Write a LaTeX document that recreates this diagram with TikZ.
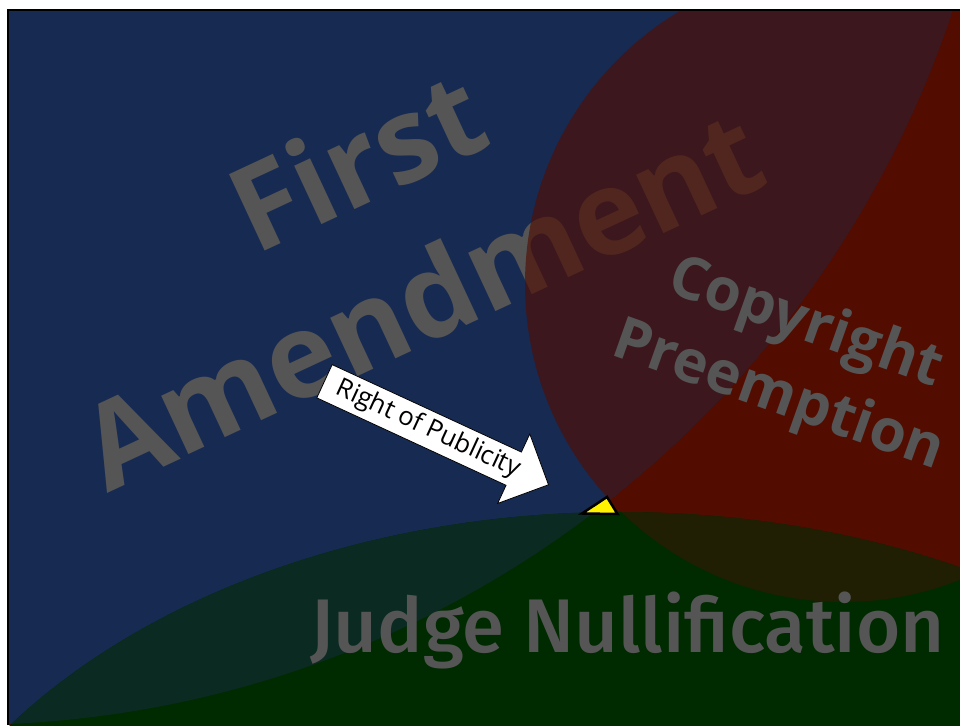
\documentclass[tikz,border=0pt]{standalone}
\usepackage{fontspec}
\usetikzlibrary{positioning,shapes.arrows}
\newfontfamily\amendfont{Open Sans}
\newfontfamily\pubfont{Open Sans}
\newfontfamily\judgefont{Fira Sans Medium}
\definecolor{navyfirst}{RGB}{23,42,82}
\definecolor{redpure}{RGB}{82,12,0}
\definecolor{redtint}{RGB}{80,14,2}
\definecolor{greenpure}{RGB}{0,42,0}
\definecolor{greenteal}{RGB}{11,42,33}
\definecolor{greenolive}{RGB}{32,31,3}
\definecolor{wordgray}{RGB}{85,85,85}
\def\firstdisc{(-37,1042) circle[radius=1042pt]}
\def\copydisc{(843,441) circle[radius=318pt]}
\def\judgedisc{(620,-297) ellipse[x radius=750pt, y radius=510pt]}

\begin{document}
\begin{tikzpicture}[x=1pt,y=1pt,
	bigword/.style={text=wordgray, inner sep=0pt, anchor=base},
	pubarrow/.style={
		single arrow, draw=black, fill=white, line width=0.8pt,
		font=\pubfont\fontsize{25.7}{30}\selectfont,
		inner xsep=14pt, inner ysep=5pt,
		single arrow head extend=20pt,
		single arrow tip angle=90,
		single arrow head indent=0pt
	},
	gapmark/.style={fill=yellow, draw=black, line width=2.5pt}
]
	\useasboundingbox (0,0) rectangle (960,725);
	\fill[white] (0,0) rectangle (960,725);
	\begin{scope}
		\clip (8,0) rectangle (970,715);
		\fill[redpure] (8,0) rectangle (970,715);
		% first amendment
		\fill[navyfirst] \firstdisc;
		\node[bigword, font=\amendfont\bfseries\fontsize{118}{142}\selectfont, rotate=25] (first) at (375,525) {First};
		\node[bigword, font=\amendfont\bfseries\fontsize{118}{142}\selectfont, rotate=25] (amend) at (439.5,387) {Amendment};
		% copyright preemption over it
		\begin{scope}
			\clip \firstdisc;
			\fill[redtint, fill opacity=0.65] \copydisc;
		\end{scope}
		% judge nullification
		\fill[greenpure] \judgedisc;
		\begin{scope}
			\clip \judgedisc;
			\fill[greenteal] \firstdisc;
			\fill[greenolive] \copydisc;
		\end{scope}
		\node[bigword, font=\amendfont\bfseries\fontsize{59}{72}\selectfont, rotate=-19.5] (copy) at (800,386) {Copyright};
		\node[bigword, font=\amendfont\bfseries\fontsize{59}{72}\selectfont, rotate=-19.5] (preempt) at (773,313) {Preemption};
		\node[bigword, font=\judgefont\fontsize{76}{90}\selectfont] (judge) at (627.5,72) {Judge Nullification};
		% the gap
		\coordinate (apex) at (607,228);
		\coordinate (gapl) at (582,211.5);
		\coordinate (gapr) at (617.5,211);
		\draw[gapmark] (apex) -- (gapl) -- (gapr) -- cycle;
		\node[pubarrow, rotate=-24.8, anchor=tip] (publicity) at (549,240) {Right of Publicity};
	\end{scope}
	\draw[line width=2pt] (8,0) -- (8,715) -- (960,715);
\end{tikzpicture}
\end{document}
